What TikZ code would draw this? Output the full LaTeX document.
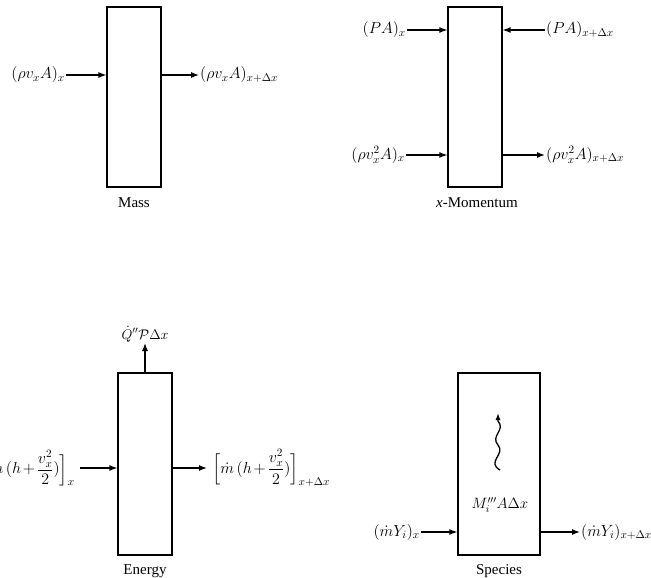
\RequirePackage{fix-cm}
\documentclass[tikz,border=0pt]{standalone}
\usepackage{amsmath}
\usepackage{fontspec}
\setmainfont{Liberation Serif}
\usetikzlibrary{arrows.meta}
\begin{document}
\begin{tikzpicture}[x=1pt,y=-1pt,
  every node/.style={font=\fontsize{15}{18}\selectfont, inner sep=1pt},
  cv/.style={draw, line width=1.2pt, inner sep=0pt},
  flow/.style={line width=1.3pt, -{Latex[length=8pt,width=6pt]}},
  lbl/.style={inner sep=1pt, font=\fontsize{16}{19}\selectfont},
  elbl/.style={inner ysep=1pt, inner xsep=5pt, font=\fontsize{16}{19}\selectfont}]
\useasboundingbox (0,0) rectangle (651,578);
% Mass
\node[cv, minimum width=54pt, minimum height=180pt] (mass) at (134,97) {};
\node (massname) at (134,203) {Mass};
\node[lbl, anchor=east] (m1) at (66,75) {$(\rho v_x A)_x$};
\node[lbl, anchor=west] (m2) at (199,75) {$(\rho v_x A)_{x+\Delta x}$};
\draw[flow] (m1.east) -- (mass.west |- m1.east);
\draw[flow] (mass.east |- m2.west) -- (m2.west);
% x-Momentum
\node[cv, minimum width=54pt, minimum height=180pt] (mom) at (475,97) {};
\node (momname) at (477,203) {\textit{x}-Momentum};
\node[lbl, anchor=east] (p1) at (407,30) {$(PA)_x$};
\node[lbl, anchor=west] (p2) at (545,30) {$(PA)_{x+\Delta x}$};
\node[lbl, anchor=east] (r1) at (406,155) {$(\rho v_x^2 A)_x$};
\node[lbl, anchor=west] (r2) at (545,155) {$(\rho v_x^2 A)_{x+\Delta x}$};
\draw[flow] (p1.east) -- (mom.west |- p1.east);
\draw[flow] (p2.west) -- (mom.east |- p2.west);
\draw[flow] (r1.east) -- (mom.west |- r1.east);
\draw[flow] (mom.east |- r2.west) -- (r2.west);
% Energy
\node[cv, minimum width=54pt, minimum height=182pt] (en) at (145,464) {};
\node (enname) at (145,571) {Energy};
\node[lbl, anchor=south, font=\fontsize{14}{17}\selectfont] (q) at (145,343) {$\dot{Q}''\mathcal{P}\Delta x$};
\draw[flow] (en.north) -- (q.south);
\node[elbl, anchor=east] (e1) at (80,468) {$\medmuskip=2mu\Big[\dot m\,(h+\dfrac{v_x^2}{2})\Big]_x$};
\node[elbl, anchor=west] (e2) at (207,468) {$\medmuskip=2mu\Big[\dot m\,(h+\dfrac{v_x^2}{2})\Big]_{x+\Delta x}$};
\draw[flow] (e1.east) -- (en.west |- e1.east);
\draw[flow] (en.east |- e2.west) -- (e2.west);
% Species
\node[cv, minimum width=82pt, minimum height=182pt] (sp) at (499,464) {};
\node (spname) at (499,571) {Species};
\node (gen) at (500,505) {$M_i'''A\Delta x$};
\node[lbl, anchor=east] (s1) at (421,532) {$(\dot m Y_i)_x$};
\node[lbl, anchor=west] (s2) at (580,532) {$(\dot m Y_i)_{x+\Delta x}$};
\draw[flow] (s1.east) -- (sp.west |- s1.east);
\draw[flow] (sp.east |- s2.west) -- (s2.west);
\coordinate (w0) at (500,470);
\coordinate (w1) at (498,413);
\draw[line width=1.3pt, -{Latex[length=7pt,width=5pt]}] (w0) .. controls (486,462) and (506,454) .. (498,445) .. controls (490,436) and (506,430) .. (498,421) -- (w1);
\end{tikzpicture}
\end{document}
